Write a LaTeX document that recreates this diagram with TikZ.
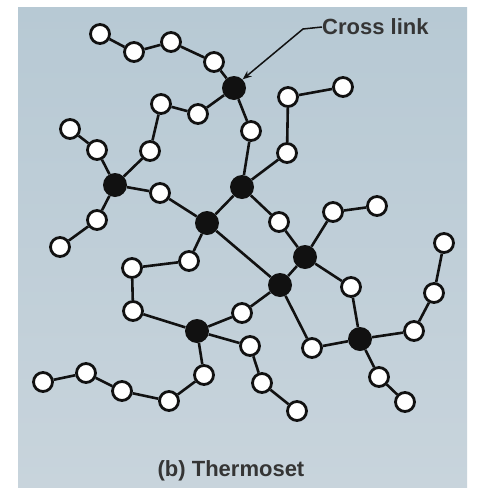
\documentclass[tikz,border=0pt]{standalone}
\usepackage{fontspec}
\setmainfont{Liberation Sans}
\usetikzlibrary{arrows.meta}
\definecolor{paneltop}{HTML}{B7C9D4}
\definecolor{panelbot}{HTML}{C8D4DC}
\definecolor{inkc}{HTML}{111111}
\tikzset{
  mono/.style={circle, draw=inkc, line width=2.8pt, fill=white, minimum size=19pt, inner sep=0pt},
  link/.style={circle, fill=inkc, minimum size=24pt, inner sep=0pt},
  bond/.style={draw=inkc, line width=2.6pt},
  label/.style={font=\bfseries\fontsize{22}{25}\selectfont, text=inkc!85!white, inner sep=0pt}
}
\begin{document}
\begin{tikzpicture}[x=1pt, y=-1pt]
\useasboundingbox (0,0) rectangle (477,488);
\fill[white] (0,0) rectangle (477,488);
\shade[top color=paneltop, bottom color=panelbot] (18,7) rectangle (467,488);

% cross-link points
\node[link] (A) at (234,88) {};
\node[link] (B) at (115,185) {};
\node[link] (C) at (207,223) {};
\node[link] (D) at (242,187) {};
\node[link] (E) at (305,257) {};
\node[link] (F) at (280,285) {};
\node[link] (G) at (197,331) {};
\node[link] (H) at (360,339) {};

% monomer units
\foreach \n/\x/\y in {
  w1/100/34, w2/134/52, w3/171/42, w4/214/62, w5/198/114, w6/161/104,
  w7/150/151, w8/97/150, w9/70/129, w10/160/193, w11/97/220, w12/60/247,
  w13/251/131, w14/287/153, w15/288/97, w16/343/87, w17/279/222,
  w18/333/212, w19/377/206, w20/351/287, w21/189/261, w22/132/268,
  w23/133/311, w24/242/313, w25/204/375, w26/169/401, w27/122/391,
  w28/86/373, w29/43/382, w30/250/346, w31/262/383, w32/297/411,
  w33/312/348, w34/414/331, w35/434/293, w36/444/243, w37/379/377,
  w38/405/402}
  \node[mono] (\n) at (\x,\y) {};

% bonds
\foreach \a/\b in {
  w1/w2, w2/w3, w3/w4, w4/A, A/w5, w5/w6, w6/w7, w7/B,
  w9/w8, w8/B, B/w11, w11/w12, B/w10, w10/C,
  A/w13, w13/D, D/C, D/w14, w14/w15, w15/w16, D/w17, w17/E,
  E/w18, w18/w19, E/w20, w20/H, E/F, C/F,
  C/w21, w21/w22, w22/w23, w23/G, F/w24, w24/G, F/w33, w33/H,
  G/w25, w25/w26, w26/w27, w27/w28, w28/w29,
  G/w30, w30/w31, w31/w32,
  H/w34, w34/w35, w35/w36, H/w37, w37/w38}
  \draw[bond] (\a) -- (\b);

% labels
\node[label, anchor=west] (cl) at (322,27) {Cross link};
\coordinate (bend) at (303,29);
\draw[draw=inkc, line width=1.5pt, -{Stealth[length=9pt, width=7pt]}]
  (cl.west) -- (bend) -- (A.north east);
\node[label] (cap) at (231,471) {(b) Thermoset};
\end{tikzpicture}
\end{document}
